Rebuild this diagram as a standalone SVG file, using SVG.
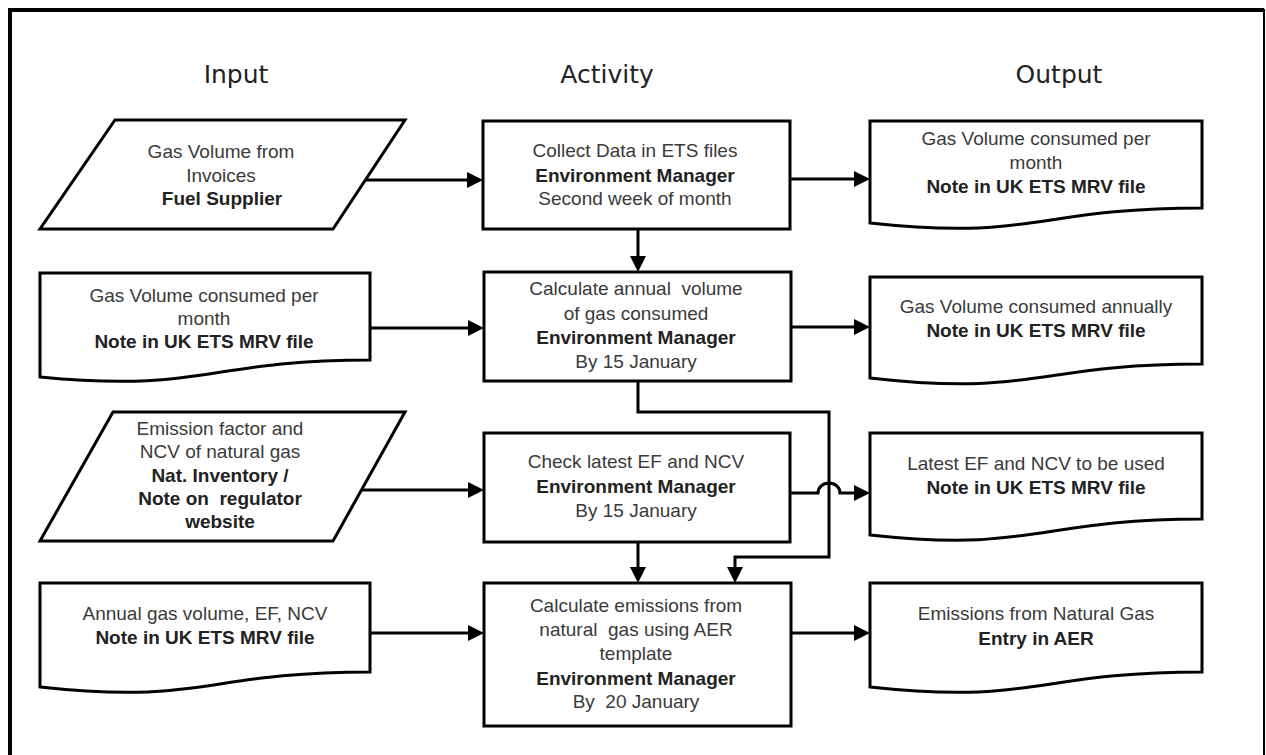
<svg xmlns="http://www.w3.org/2000/svg" width="1266" height="755" viewBox="0 0 1266 755">
<style>
.frame{fill:none;stroke:#000;stroke-width:4}
.frame-r{fill:none;stroke:#000;stroke-width:2}
.shape{fill:#fff;stroke:#000;stroke-width:3;stroke-linejoin:miter}
.conn{fill:none;stroke:#000;stroke-width:3}
.hdr{font-family:"DejaVu Sans",sans-serif;font-size:25px;fill:#222;text-anchor:middle}
.t{font-family:"Liberation Sans",Arial,sans-serif;font-size:19px;fill:#3a3a3a;text-anchor:middle;white-space:pre}
.b{font-weight:bold;fill:#222}
</style>
<defs>
<marker id="arr" markerUnits="userSpaceOnUse" markerWidth="16" markerHeight="16" refX="8" refY="8" orient="auto">
<path d="M0,0 L16,8 L0,16 z" fill="#000"/>
</marker>
</defs>
<path class="frame" d="M10,760 V10 H1264"/>
<path class="frame-r" d="M1264,9 V760"/>
<g id="headers">
<text class="hdr" x="236" y="83">Input</text>
<text class="hdr" x="607" y="83">Activity</text>
<text class="hdr" x="1059" y="83">Output</text>
</g>
<g id="connectors">
<path class="conn" d="M365,180 H475" marker-end="url(#arr)"/>
<path class="conn" d="M790,179 H862" marker-end="url(#arr)"/>
<path class="conn" d="M638,229 V264" marker-end="url(#arr)"/>
<path class="conn" d="M370,328 H476" marker-end="url(#arr)"/>
<path class="conn" d="M791,327 H862" marker-end="url(#arr)"/>
<path class="conn" d="M361,490 H476" marker-end="url(#arr)"/>
<path class="conn" d="M790,493 H818 A11,10 0 0 1 840,493 H862" marker-end="url(#arr)"/>
<path class="conn" d="M638,381 V412 H829 V557 H735 V575" marker-end="url(#arr)"/>
<path class="conn" d="M638,542 V575" marker-end="url(#arr)"/>
<path class="conn" d="M370,633 H476" marker-end="url(#arr)"/>
<path class="conn" d="M791,633 H862" marker-end="url(#arr)"/>
</g>
<g id="in1">
<path class="shape" d="M115,120 H405 L333,229 H40 Z"/>
<text class="t" x="221" y="158">Gas Volume from</text>
<text class="t" x="221" y="182">Invoices</text>
<text class="t b" x="222" y="205">Fuel Supplier</text>
</g>
<g id="in2">
<path class="shape" d="M40,273 H370 V360 C205,360 205,393 40,377 Z"/>
<text class="t" x="204" y="302">Gas Volume consumed per</text>
<text class="t" x="204" y="325">month</text>
<text class="t b" x="204" y="348">Note in UK ETS MRV file</text>
</g>
<g id="in3">
<path class="shape" d="M113,412 H405 L333,541 H40 Z"/>
<text class="t" x="220" y="435">Emission factor and</text>
<text class="t" x="220" y="458">NCV of natural gas</text>
<text class="t b" x="220" y="482">Nat. Inventory /</text>
<text class="t b" x="220" y="505">Note on  regulator</text>
<text class="t b" x="220" y="528">website</text>
</g>
<g id="in4">
<path class="shape" d="M40,583 H370 V672 C205,672 205,705 40,687 Z"/>
<text class="t" x="205" y="620">Annual gas volume, EF, NCV</text>
<text class="t b" x="205" y="644">Note in UK ETS MRV file</text>
</g>
<g id="act1">
<rect class="shape" x="483" y="121" width="307" height="108"/>
<text class="t" x="635" y="157">Collect Data in ETS files</text>
<text class="t b" x="635" y="182">Environment Manager</text>
<text class="t" x="635" y="205">Second week of month</text>
</g>
<g id="act2">
<rect class="shape" x="484" y="272" width="307" height="109"/>
<text class="t" x="636" y="295">Calculate annual  volume</text>
<text class="t" x="636" y="320">of gas consumed</text>
<text class="t b" x="636" y="344">Environment Manager</text>
<text class="t" x="636" y="368">By 15 January</text>
</g>
<g id="act3">
<rect class="shape" x="484" y="433" width="306" height="109"/>
<text class="t" x="636" y="468">Check latest EF and NCV</text>
<text class="t b" x="636" y="493">Environment Manager</text>
<text class="t" x="636" y="517">By 15 January</text>
</g>
<g id="act4">
<rect class="shape" x="484" y="583" width="307" height="143"/>
<text class="t" x="636" y="612">Calculate emissions from</text>
<text class="t" x="636" y="636">natural  gas using AER</text>
<text class="t" x="636" y="660">template</text>
<text class="t b" x="636" y="685">Environment Manager</text>
<text class="t" x="636" y="708">By  20 January</text>
</g>
<g id="out1">
<path class="shape" d="M870,121 H1202 V208 C1036,208 1036,241 870,223 Z"/>
<text class="t" x="1036" y="145">Gas Volume consumed per</text>
<text class="t" x="1036" y="169">month</text>
<text class="t b" x="1036" y="193">Note in UK ETS MRV file</text>
</g>
<g id="out2">
<path class="shape" d="M870,277 H1202 V364 C1036,364 1036,397 870,378 Z"/>
<text class="t" x="1036" y="313">Gas Volume consumed annually</text>
<text class="t b" x="1036" y="337">Note in UK ETS MRV file</text>
</g>
<g id="out3">
<path class="shape" d="M870,433 H1202 V519 C1036,519 1036,553 870,535 Z"/>
<text class="t" x="1036" y="470">Latest EF and NCV to be used</text>
<text class="t b" x="1036" y="494">Note in UK ETS MRV file</text>
</g>
<g id="out4">
<path class="shape" d="M870,583 H1202 V672 C1036,672 1036,705 870,687 Z"/>
<text class="t" x="1036" y="620">Emissions from Natural Gas</text>
<text class="t b" x="1036" y="645">Entry in AER</text>
</g>
</svg>
